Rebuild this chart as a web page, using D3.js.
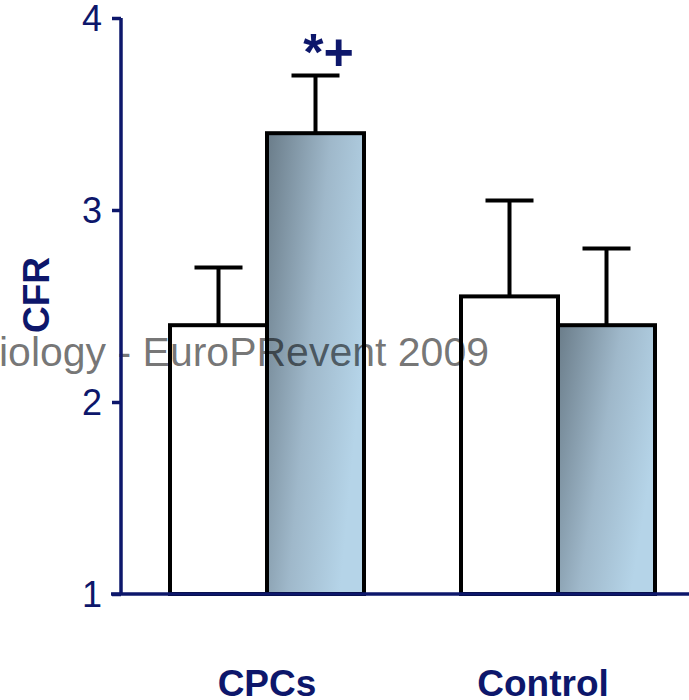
<!DOCTYPE html>
<html><head><meta charset="utf-8">
<script src="https://cdn.jsdelivr.net/npm/d3@7"></script>
<style>html,body{margin:0;padding:0;background:#fff;overflow:hidden}</style>
</head><body>
<svg id="c" width="689" height="700"></svg>
<script>
const categories = ["CPCs", "Control"];
const series = ["baseline", "treated"];
const means = [[2.4, 3.4], [2.55, 2.4]];
const errors = [[0.3, 0.3], [0.5, 0.4]];
const yTicks = [1, 2, 3, 4];
const yLabel = "CFR";
const annotation = "*+";
const watermark = "iology - EuroPRevent 2009";

const navy = "#0d176b";
const labelShift = {"CPCs": 0, "Control": -15};
const svg = d3.select("#c");
const defs = svg.append("defs");
const g = defs.append("linearGradient").attr("id", "blueGrad")
  .attr("x1", 0).attr("y1", 0).attr("x2", 1).attr("y2", 0.45);
g.append("stop").attr("offset", "0%").attr("stop-color", "#6a7c89");
g.append("stop").attr("offset", "55%").attr("stop-color", "#9fb8ca");
g.append("stop").attr("offset", "100%").attr("stop-color", "#b5d4e8");

const y = d3.scaleLinear().domain([1, 4]).range([594, 18]);
const x0 = d3.scaleBand().domain(categories).range([121.5, 703.5]).paddingInner(1/3).paddingOuter(1/6);
const x1 = d3.scaleBand().domain(series).range([0, x0.bandwidth()]);

const data = [];
categories.forEach((c, i) => series.forEach((s, j) => data.push({c, s, v: means[i][j], e: errors[i][j]})));

// bar fills
svg.append("g").selectAll("rect").data(data).join("rect")
  .attr("x", d => x0(d.c) + x1(d.s))
  .attr("y", d => y(d.v))
  .attr("width", x1.bandwidth())
  .attr("height", d => y(1) - y(d.v))
  .attr("fill", d => d.s === "baseline" ? "#fff" : "url(#blueGrad)");

// watermark
svg.append("text").attr("x", -1).attr("y", 366)
  .attr("font-family", "Liberation Sans, Arial, sans-serif").attr("font-size", 40)
  .attr("fill", "#000").attr("fill-opacity", 0.55)
  .attr("textLength", 490).attr("lengthAdjust", "spacingAndGlyphs")
  .text(watermark);

// error bars
const eb = svg.append("g").attr("stroke", "#000").attr("stroke-width", 4);
data.forEach(d => {
  const cx = x0(d.c) + x1(d.s) + x1.bandwidth() / 2;
  eb.append("line").attr("x1", cx).attr("x2", cx).attr("y1", y(d.v)).attr("y2", y(d.v + d.e));
  eb.append("line").attr("x1", cx - 24).attr("x2", cx + 24).attr("y1", y(d.v + d.e)).attr("y2", y(d.v + d.e));
});

// bar outlines
svg.append("g").selectAll("rect").data(data).join("rect")
  .attr("x", d => x0(d.c) + x1(d.s))
  .attr("y", d => y(d.v))
  .attr("width", x1.bandwidth())
  .attr("height", d => y(1) - y(d.v))
  .attr("fill", "none").attr("stroke", "#000").attr("stroke-width", 4);

// y axis
const yAxis = d3.axisLeft(y).tickValues(yTicks).tickFormat(d3.format("d")).tickSize(9).tickPadding(10);
const ya = svg.append("g").attr("transform", "translate(121,0)").call(yAxis);
ya.select(".domain").attr("stroke", navy).attr("stroke-width", 3.5).attr("d", "M0,18V594");
ya.selectAll(".tick line").attr("stroke", navy).attr("stroke-width", 3.5);
ya.selectAll(".tick text").attr("fill", navy).attr("font-size", 36)
  .attr("font-family", "Liberation Sans, Arial, sans-serif").attr("dy", "0.36em");

// x baseline
svg.append("line").attr("x1", 111).attr("x2", 689).attr("y1", y(1)).attr("y2", y(1))
  .attr("stroke", navy).attr("stroke-width", 3.5);

// category labels
svg.append("g").selectAll("text").data(categories).join("text")
  .attr("x", d => x0(d) + x0.bandwidth() / 2 + labelShift[d])
  .attr("y", 696)
  .attr("text-anchor", "middle")
  .attr("font-family", "Liberation Sans, Arial, sans-serif")
  .attr("font-weight", "bold").attr("font-size", 37).attr("fill", navy)
  .text(d => d);

// y label
svg.append("text").attr("transform", "translate(49,295) rotate(-90)")
  .attr("text-anchor", "middle")
  .attr("font-family", "Liberation Sans, Arial, sans-serif")
  .attr("font-weight", "bold").attr("font-size", 37).attr("fill", navy)
  .text(yLabel);

// annotation
const ad = data[1];
svg.append("text")
  .attr("x", x0(ad.c) + x1(ad.s) + x1.bandwidth() / 2 + 13)
  .attr("y", y(ad.v + ad.e) - 6)
  .attr("text-anchor", "middle")
  .attr("font-family", "Liberation Sans, Arial, sans-serif")
  .attr("font-weight", "bold").attr("font-size", 52).attr("fill", navy)
  .text(annotation);
</script>
</body></html>
